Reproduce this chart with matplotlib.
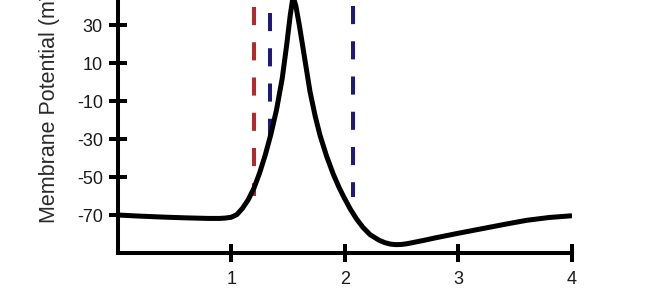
import numpy as np
import matplotlib
matplotlib.use("Agg")
import matplotlib.pyplot as plt

# time axis and membrane potential (mV)
t = [0.0, 0.2, 0.4, 0.6, 0.8, 0.9, 0.95, 1.0, 1.05, 1.1, 1.15, 1.2, 1.25,
     1.3, 1.35, 1.4, 1.45, 1.49, 1.52, 1.545, 1.57, 1.6, 1.635, 1.694,
     1.74, 1.782, 1.84, 1.899, 1.95, 1.987, 2.05, 2.105, 2.16, 2.222, 2.3,
     2.35, 2.4, 2.45, 2.5, 2.55, 2.6, 2.7, 2.8, 2.9, 3.0, 3.2, 3.4, 3.6,
     3.8, 4.0]
vm = [-70.0, -70.6, -71.1, -71.5, -71.8, -71.8, -71.6, -71.2, -69.8, -66.5,
      -62.0, -56.0, -48.0, -38.5, -27.5, -14.5, 2.0, 20.0, 35.0, 45.0,
      40.0, 30.0, 17.0, -5.0, -18.0, -28.0, -39.0, -48.5, -55.5, -60.0,
      -67.0, -72.2, -76.5, -80.3, -83.2, -84.5, -85.3, -85.6, -85.5, -85.1,
      -84.5, -83.3, -82.0, -80.8, -79.6, -77.3, -75.0, -72.8, -71.3, -70.4]

# dashed markers: position, lower end, upper end, colour
mark_x = [1.20, 1.341, 2.074]
mark_lo = [-60.0, -37.0, -60.5]
mark_hi = [39.5, 36.3, 40.0]
mark_col = ['#b22a2e', '#1f1a78', '#1f1a78']

yticks = [-70, -50, -30, -10, 10, 30]
xticks = [1, 2, 3, 4]

plt.rcParams['font.family'] = ['Liberation Sans', 'DejaVu Sans']

fig = plt.figure(figsize=(6.46, 2.90), dpi=100)
W, H = 646, 290
# axes runs past the top edge of the picture (the chart is cropped)
ax = fig.add_axes([117.5 / W, 37 / H, 454.5 / W, 304 / H])

for x, lo, hi, c in zip(mark_x, mark_lo, mark_hi, mark_col):
    ax.plot([x, x], [hi, lo], color=c, lw=2.9,
            linestyle=(0, (4.5, 4.25)), solid_capstyle='butt', zorder=2)

ax.plot(t, vm, color='black', lw=3.6, solid_joinstyle='round',
        solid_capstyle='butt', zorder=3)

ax.set_xlim(0, 4)
ax.set_ylim(-90, 70)
ax.set_xticks(xticks)
ax.set_yticks(yticks)
ax.set_xticklabels([str(v) for v in xticks])
ax.set_yticklabels([str(v) for v in yticks])

for s in ['top', 'right']:
    ax.spines[s].set_visible(False)
for s in ['left', 'bottom']:
    ax.spines[s].set_linewidth(2.9)
    ax.spines[s].set_capstyle('projecting')

ax.tick_params(direction='inout', length=13.2, width=2.9, labelsize=13,
               colors='black', labelcolor='#1a1a1a')
ax.tick_params(axis='y', pad=4)
ax.tick_params(axis='x', pad=6)

ax.set_ylabel('Membrane Potential (mV)', fontsize=15.5, color='#2a2a2a')
ax.yaxis.set_label_coords(-0.127, 0.5)

fig.savefig('out.png', dpi=100)
